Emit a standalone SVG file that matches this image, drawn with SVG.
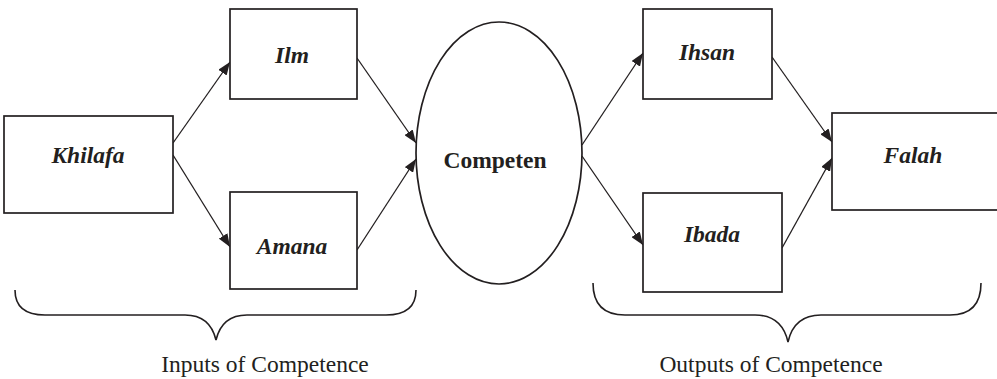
<svg xmlns="http://www.w3.org/2000/svg" width="997" height="379" viewBox="0 0 997 379">
<style>
.box{fill:#fff;stroke:#231f20;stroke-width:1.7}
.lbl{font-family:"Liberation Serif",serif;font-weight:bold;font-style:italic;font-size:23.5px;fill:#231f20;text-anchor:middle}
.cen{font-family:"Liberation Serif",serif;font-weight:bold;font-size:23.5px;fill:#231f20;text-anchor:middle}
.cap{font-family:"Liberation Serif",serif;font-size:23.5px;fill:#231f20;text-anchor:middle}
.edge{stroke:#231f20;stroke-width:1.3;fill:none;marker-end:url(#ah)}
.brace{stroke:#231f20;stroke-width:1.6;fill:none}
</style>
<defs>
<marker id="ah" markerUnits="userSpaceOnUse" markerWidth="13" markerHeight="10" refX="13" refY="5" orient="auto">
<path d="M0,0 L13,5 L0,10 Z" fill="#231f20"/>
</marker>
</defs>
<rect width="997" height="379" fill="#fff"/>
<g id="connectors">
<line class="edge" x1="173" y1="143" x2="230" y2="62"/>
<line class="edge" x1="173" y1="155" x2="230" y2="247"/>
<line class="edge" x1="357" y1="58" x2="416" y2="143"/>
<line class="edge" x1="357" y1="250" x2="416" y2="159"/>
<line class="edge" x1="582" y1="145" x2="643" y2="53"/>
<line class="edge" x1="582" y1="156" x2="643" y2="245"/>
<line class="edge" x1="772" y1="57" x2="832" y2="142"/>
<line class="edge" x1="782" y1="248" x2="832" y2="158"/>
</g>
<g id="khilafa"><rect class="box" x="4" y="116" width="169" height="97"/><text class="lbl" x="88" y="163">Khilafa</text></g>
<g id="ilm"><rect class="box" x="230" y="9" width="127" height="90"/><text class="lbl" x="292" y="63">Ilm</text></g>
<g id="amana"><rect class="box" x="230" y="192" width="127" height="97"/><text class="lbl" x="292" y="254">Amana</text></g>
<g id="competen"><ellipse class="box" cx="499" cy="153" rx="83" ry="131"/><text class="cen" x="495" y="168">Competen</text></g>
<g id="ihsan"><rect class="box" x="643" y="9" width="129" height="90"/><text class="lbl" x="707" y="60">Ihsan</text></g>
<g id="ibada"><rect class="box" x="643" y="193" width="139" height="99"/><text class="lbl" x="712" y="242">Ibada</text></g>
<g id="falah"><rect class="box" x="832" y="113" width="166" height="97"/><text class="lbl" x="913" y="163">Falah</text></g>
<g id="inputs">
<path class="brace" d="M15,290 Q15,315 45,315 L185,315 Q210,315 216,340 Q222,315 247,315 L386,315 Q416,315 416,290"/>
<text class="cap" x="265" y="372">Inputs of Competence</text>
</g>
<g id="outputs">
<path class="brace" d="M593,283 Q593,315 625,315 L755,315 Q782,315 788,342 Q794,315 821,315 L950,315 Q981,315 981,283"/>
<text class="cap" x="771" y="372">Outputs of Competence</text>
</g>
</svg>
